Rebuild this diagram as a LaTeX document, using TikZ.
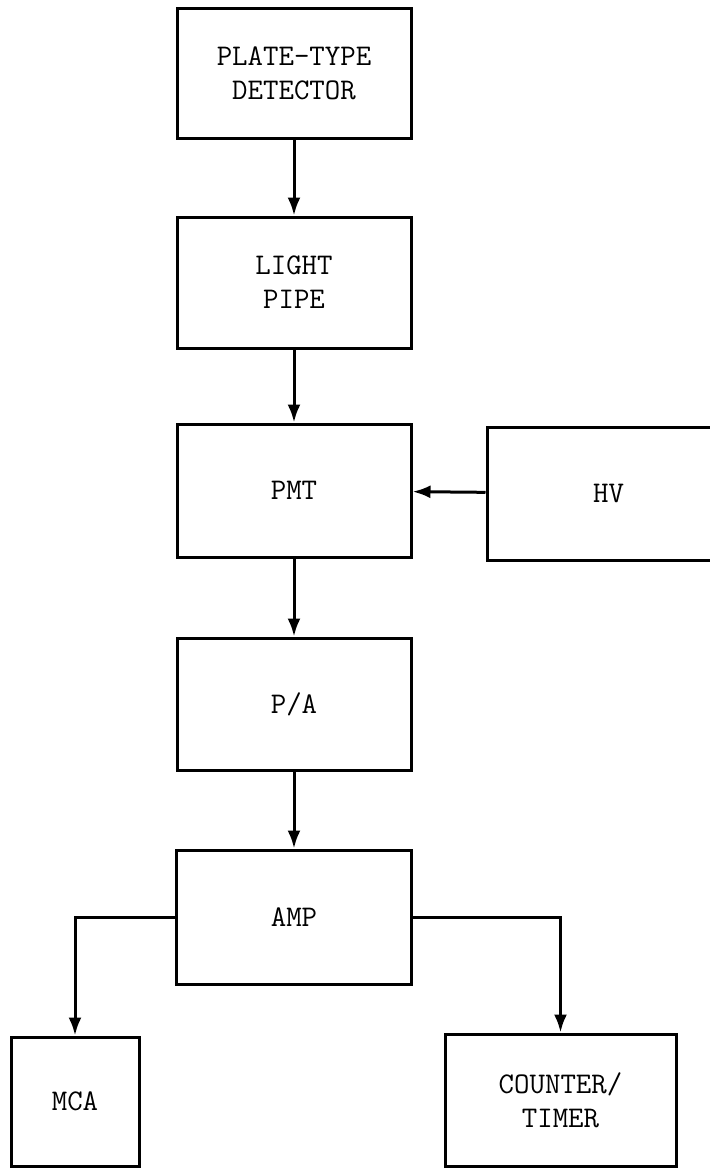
\documentclass[tikz,border=0pt]{standalone}
\usepackage{tikz}
\usetikzlibrary{arrows.meta, positioning}

\begin{document}
\begin{tikzpicture}[
    x=0.5pt, y=-0.5pt,
    block/.style={rectangle, draw, line width=1.5pt, inner sep=0pt, minimum width=117pt, minimum height=66pt, align=center, font=\ttfamily\fontsize{15}{17}\selectfont},
    arrow/.style={line width=1.5pt, -{Latex[length=9pt,width=6.5pt]}}
]
    \useasboundingbox (0,0) rectangle (709,1168);

    \node[block, minimum height=65pt] (detector) at (294,73) {PLATE-TYPE\\DETECTOR};
    \node[block, minimum height=65.5pt] (pipe) at (294,282.5) {LIGHT\\PIPE};
    \node[block, minimum height=66.5pt] (pmt) at (294,490.5) {PMT};
    \node[block, minimum width=121.5pt, minimum height=66.5pt] (hv) at (608.5,493.5) {HV};
    \node[block] (pa) at (294,704) {P/A};
    \node[block, minimum width=117.5pt, minimum height=67pt] (amp) at (294,917) {AMP};
    \node[block, minimum width=64pt, minimum height=64.5pt] (mca) at (75,1101.5) {MCA};
    \node[block, minimum width=115.5pt] (counter) at (560.5,1100) {COUNTER/\\TIMER};

    \draw[arrow] (detector) -- (pipe);
    \draw[arrow] (pipe) -- (pmt);
    \draw[arrow] (hv) -- (pmt);
    \draw[arrow] (pmt) -- (pa);
    \draw[arrow] (pa) -- (amp);
    \draw[arrow] (amp.west) -| (mca.north);
    \draw[arrow] (amp.east) -| (counter.north);

\end{tikzpicture}
\end{document}
